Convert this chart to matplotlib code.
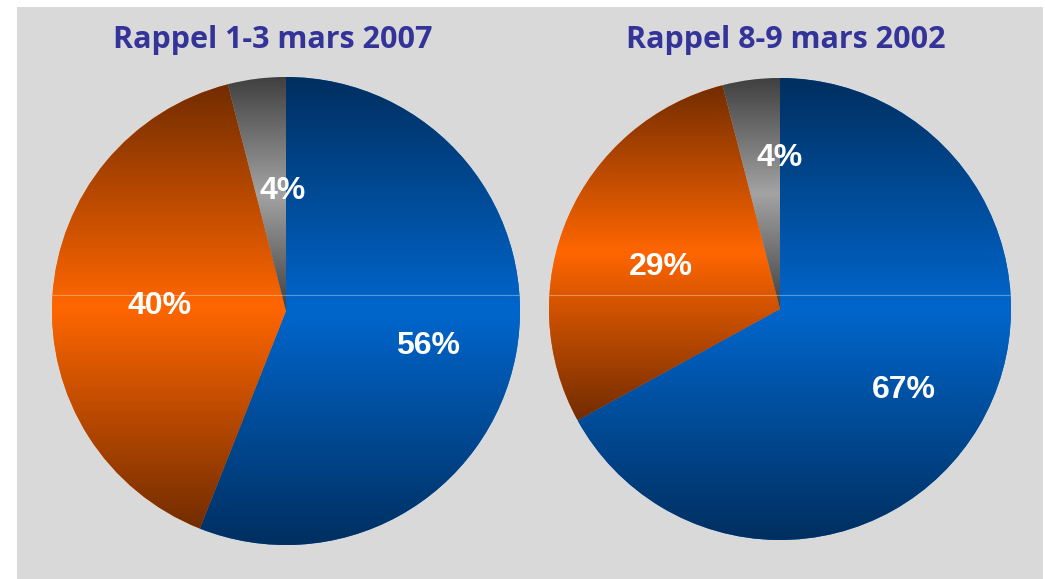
import numpy as np
import matplotlib
matplotlib.use('Agg')
import matplotlib.pyplot as plt
from matplotlib import colors, patches

# data
titles = ['Rappel 1-3 mars 2007', 'Rappel 8-9 mars 2002']
parts_2007 = [56, 40, 4]
parts_2002 = [67, 29, 4]

# style: (dark, bright) gradient colours per slice
slice_colors = [('#002f60', '#0066cc'), ('#722c00', '#ff6600'), ('#404040', '#a3a3a3')]

# layout in pixels (y up)
W, H = 1045, 579
centers = [(286, 268), (780, 270)]
radii = [234, 231]
title_x = [273, 786]
# label distance (fraction of radius) and angular nudge (deg) per slice
label_pos = [[(0.62, -1.9), (0.54, -0.4), (0.53, -5.8)],
             [(0.63, -1.4), (0.55, 2.5), (0.67, -7.2)]]

fig = plt.figure(figsize=(W / 100, H / 100), dpi=100)
fig.patch.set_facecolor('white')
ax = fig.add_axes([0, 0, 1, 1])

ax.add_patch(patches.Rectangle((17, 0), 1026, 572, facecolor='#d9d9d9', edgecolor='none', zorder=0))

grad = np.linspace(0, 1, 256).reshape(-1, 1)

for k, vals in enumerate([parts_2007, parts_2002]):
    cx, cy = centers[k]
    r = radii[k]
    wedges, _ = ax.pie(vals, center=(cx, cy), radius=r, startangle=90, counterclock=False,
                       colors=[c[1] for c in slice_colors], wedgeprops=dict(linewidth=0))
    for i, w in enumerate(wedges):
        w.set_zorder(1)
        ext = w.get_path().get_extents()
        dark, bright = slice_colors[i]
        cmap = colors.LinearSegmentedColormap.from_list('g%d' % i, [dark, bright, dark])
        im = ax.imshow(grad, cmap=cmap, extent=(ext.x0, ext.x1, ext.y0, ext.y1), origin='lower',
                       aspect='auto', interpolation='bilinear', zorder=2)
        im.set_clip_path(w)

        # percent label
        d, shift = label_pos[k][i]
        ang = np.deg2rad((w.theta1 + w.theta2) / 2 + shift)
        ax.text(cx + d * r * np.cos(ang), cy + d * r * np.sin(ang), '%d%%' % vals[i],
                color='white', fontsize=23, fontweight='bold', family='Liberation Sans',
                ha='center', va='center_baseline', zorder=4)

    # faint light seam across the pie
    circ = patches.Circle((cx, cy), r, transform=ax.transData)
    seam, = ax.plot([cx - r, cx + r], [284, 284], color='white', alpha=0.35, lw=0.8, zorder=3)
    seam.set_clip_path(circ)

    ax.text(title_x[k], 531, titles[k], color='#333399', fontsize=22, fontweight='bold',
            family='Open Sans', ha='center', va='baseline')

ax.set_xlim(0, W)
ax.set_ylim(0, H)
ax.set_aspect('auto')
ax.axis('off')

fig.savefig('out.png', dpi=100, facecolor='white')
